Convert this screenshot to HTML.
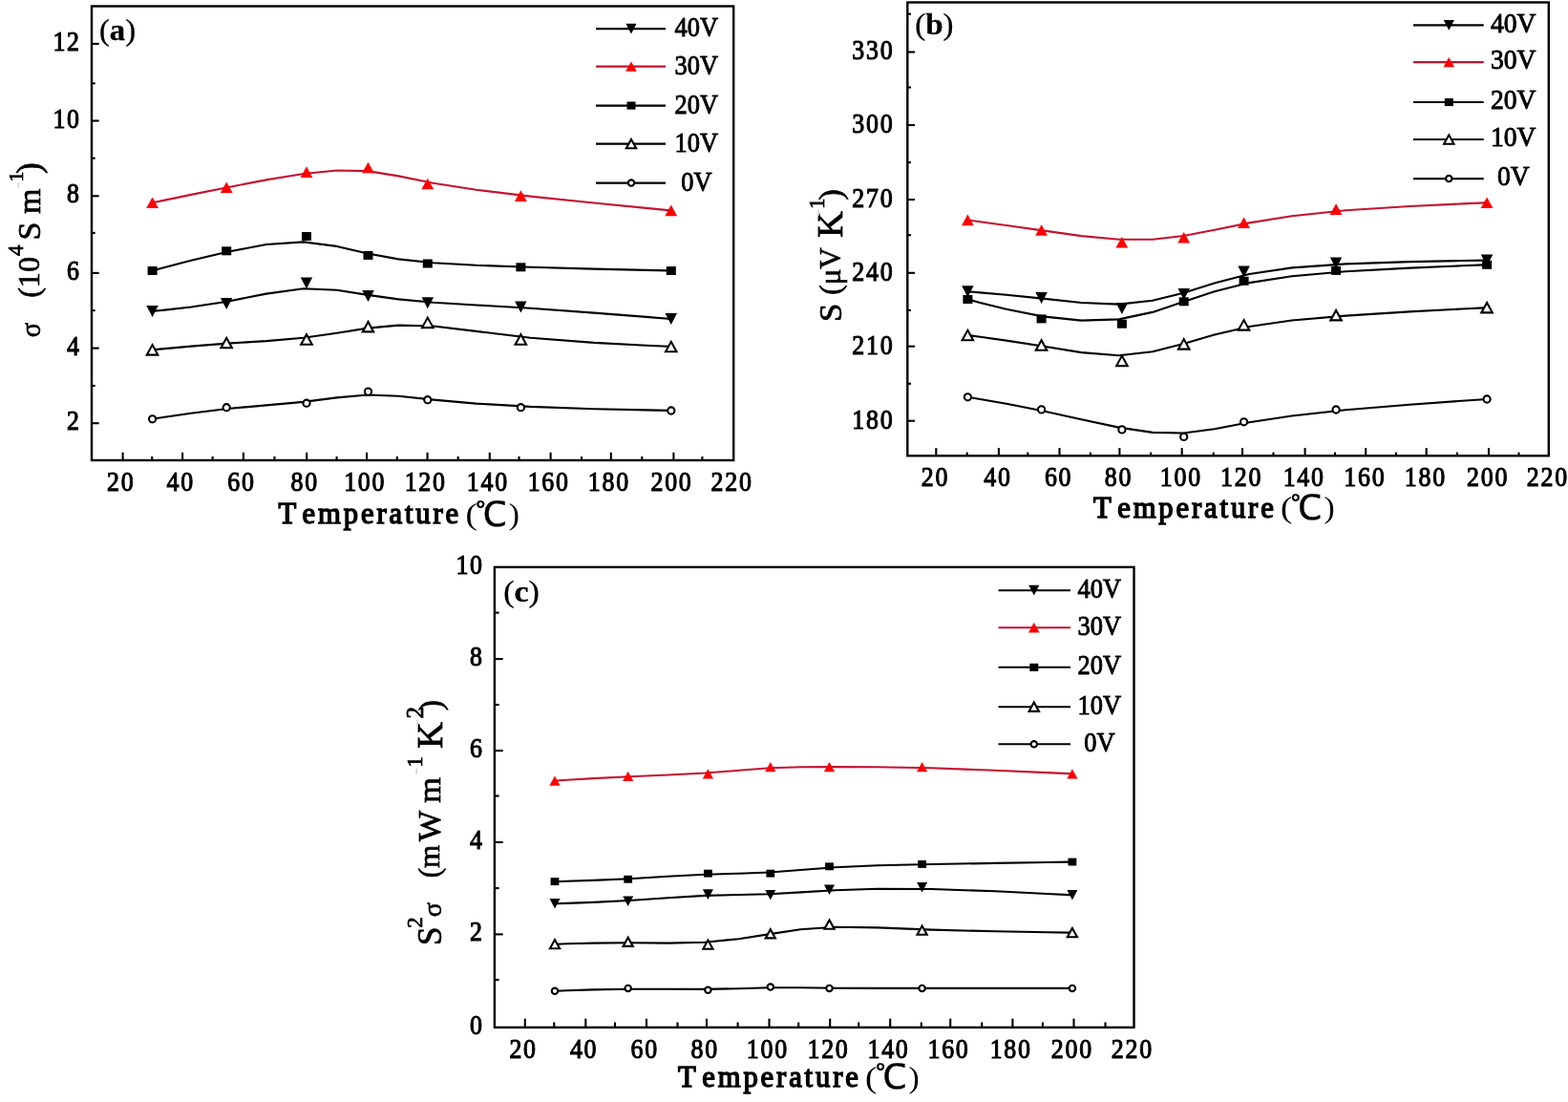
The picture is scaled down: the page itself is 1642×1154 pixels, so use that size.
<!DOCTYPE html>
<html><head><meta charset="utf-8"><title>Figure</title>
<style>
html,body{margin:0;padding:0;background:#fff;}
body{width:1642px;height:1154px;overflow:hidden;}
svg{display:block;}
</style></head><body>
<svg width="1642" height="1154" viewBox="0 0 1642 1154">
<rect width="1642" height="1154" fill="#fff"/>
<rect x="96" y="6.5" width="672.2" height="475.5" fill="none" stroke="#000" stroke-width="2.4"/>
<line x1="128.6" y1="482.0" x2="128.6" y2="473.8" stroke="#000" stroke-width="2.1"/>
<line x1="191.1" y1="482.0" x2="191.1" y2="473.8" stroke="#000" stroke-width="2.1"/>
<line x1="254.9" y1="482.0" x2="254.9" y2="473.8" stroke="#000" stroke-width="2.1"/>
<line x1="321.2" y1="482.0" x2="321.2" y2="473.8" stroke="#000" stroke-width="2.1"/>
<line x1="384.1" y1="482.0" x2="384.1" y2="473.8" stroke="#000" stroke-width="2.1"/>
<line x1="447.6" y1="482.0" x2="447.6" y2="473.8" stroke="#000" stroke-width="2.1"/>
<line x1="512.8" y1="482.0" x2="512.8" y2="473.8" stroke="#000" stroke-width="2.1"/>
<line x1="576.6" y1="482.0" x2="576.6" y2="473.8" stroke="#000" stroke-width="2.1"/>
<line x1="639.8" y1="482.0" x2="639.8" y2="473.8" stroke="#000" stroke-width="2.1"/>
<line x1="705.4" y1="482.0" x2="705.4" y2="473.8" stroke="#000" stroke-width="2.1"/>
<line x1="159.2" y1="482.0" x2="159.2" y2="478.0" stroke="#000" stroke-width="2.1"/>
<line x1="222.6" y1="482.0" x2="222.6" y2="478.0" stroke="#000" stroke-width="2.1"/>
<line x1="287.5" y1="482.0" x2="287.5" y2="478.0" stroke="#000" stroke-width="2.1"/>
<line x1="352.6" y1="482.0" x2="352.6" y2="478.0" stroke="#000" stroke-width="2.1"/>
<line x1="415.8" y1="482.0" x2="415.8" y2="478.0" stroke="#000" stroke-width="2.1"/>
<line x1="479.7" y1="482.0" x2="479.7" y2="478.0" stroke="#000" stroke-width="2.1"/>
<line x1="543.5" y1="482.0" x2="543.5" y2="478.0" stroke="#000" stroke-width="2.1"/>
<line x1="609.1" y1="482.0" x2="609.1" y2="478.0" stroke="#000" stroke-width="2.1"/>
<line x1="672.3" y1="482.0" x2="672.3" y2="478.0" stroke="#000" stroke-width="2.1"/>
<line x1="735.4" y1="482.0" x2="735.4" y2="478.0" stroke="#000" stroke-width="2.1"/>
<line x1="96" y1="443.2" x2="103.7" y2="443.2" stroke="#000" stroke-width="2.1"/>
<line x1="96" y1="364.6" x2="103.7" y2="364.6" stroke="#000" stroke-width="2.1"/>
<line x1="96" y1="285.9" x2="103.7" y2="285.9" stroke="#000" stroke-width="2.1"/>
<line x1="96" y1="205.3" x2="103.7" y2="205.3" stroke="#000" stroke-width="2.1"/>
<line x1="96" y1="126.5" x2="103.7" y2="126.5" stroke="#000" stroke-width="2.1"/>
<line x1="96" y1="45.9" x2="103.7" y2="45.9" stroke="#000" stroke-width="2.1"/>
<line x1="96" y1="404.0" x2="99.7" y2="404.0" stroke="#000" stroke-width="2.1"/>
<line x1="96" y1="325.1" x2="99.7" y2="325.1" stroke="#000" stroke-width="2.1"/>
<line x1="96" y1="243.9" x2="99.7" y2="243.9" stroke="#000" stroke-width="2.1"/>
<line x1="96" y1="165.7" x2="99.7" y2="165.7" stroke="#000" stroke-width="2.1"/>
<line x1="96" y1="87.3" x2="99.7" y2="87.3" stroke="#000" stroke-width="2.1"/>
<text transform="translate(84.8,450.3) scale(0.88,1.0)" font-size="29.4" font-weight="normal" text-anchor="end" font-family="'Liberation Serif',serif" letter-spacing="2.0" stroke="#000" stroke-width="1.1">2</text>
<text transform="translate(84.8,371.7) scale(0.88,1.0)" font-size="29.4" font-weight="normal" text-anchor="end" font-family="'Liberation Serif',serif" letter-spacing="2.0" stroke="#000" stroke-width="1.1">4</text>
<text transform="translate(84.8,293.0) scale(0.88,1.0)" font-size="29.4" font-weight="normal" text-anchor="end" font-family="'Liberation Serif',serif" letter-spacing="2.0" stroke="#000" stroke-width="1.1">6</text>
<text transform="translate(84.8,212.4) scale(0.88,1.0)" font-size="29.4" font-weight="normal" text-anchor="end" font-family="'Liberation Serif',serif" letter-spacing="2.0" stroke="#000" stroke-width="1.1">8</text>
<text transform="translate(84.8,133.6) scale(0.88,1.0)" font-size="29.4" font-weight="normal" text-anchor="end" font-family="'Liberation Serif',serif" letter-spacing="2.0" stroke="#000" stroke-width="1.1">10</text>
<text transform="translate(84.8,53.0) scale(0.88,1.0)" font-size="29.4" font-weight="normal" text-anchor="end" font-family="'Liberation Serif',serif" letter-spacing="2.0" stroke="#000" stroke-width="1.1">12</text>
<text transform="translate(126.7,514.0) scale(0.88,1.0)" font-size="29.4" font-weight="normal" text-anchor="middle" font-family="'Liberation Serif',serif" letter-spacing="2.0" stroke="#000" stroke-width="1.1">20</text>
<text transform="translate(189.2,514.0) scale(0.88,1.0)" font-size="29.4" font-weight="normal" text-anchor="middle" font-family="'Liberation Serif',serif" letter-spacing="2.0" stroke="#000" stroke-width="1.1">40</text>
<text transform="translate(253.0,514.0) scale(0.88,1.0)" font-size="29.4" font-weight="normal" text-anchor="middle" font-family="'Liberation Serif',serif" letter-spacing="2.0" stroke="#000" stroke-width="1.1">60</text>
<text transform="translate(319.3,514.0) scale(0.88,1.0)" font-size="29.4" font-weight="normal" text-anchor="middle" font-family="'Liberation Serif',serif" letter-spacing="2.0" stroke="#000" stroke-width="1.1">80</text>
<text transform="translate(382.2,514.0) scale(0.88,1.0)" font-size="29.4" font-weight="normal" text-anchor="middle" font-family="'Liberation Serif',serif" letter-spacing="2.0" stroke="#000" stroke-width="1.1">100</text>
<text transform="translate(445.7,514.0) scale(0.88,1.0)" font-size="29.4" font-weight="normal" text-anchor="middle" font-family="'Liberation Serif',serif" letter-spacing="2.0" stroke="#000" stroke-width="1.1">120</text>
<text transform="translate(510.9,514.0) scale(0.88,1.0)" font-size="29.4" font-weight="normal" text-anchor="middle" font-family="'Liberation Serif',serif" letter-spacing="2.0" stroke="#000" stroke-width="1.1">140</text>
<text transform="translate(574.7,514.0) scale(0.88,1.0)" font-size="29.4" font-weight="normal" text-anchor="middle" font-family="'Liberation Serif',serif" letter-spacing="2.0" stroke="#000" stroke-width="1.1">160</text>
<text transform="translate(637.9,514.0) scale(0.88,1.0)" font-size="29.4" font-weight="normal" text-anchor="middle" font-family="'Liberation Serif',serif" letter-spacing="2.0" stroke="#000" stroke-width="1.1">180</text>
<text transform="translate(703.5,514.0) scale(0.88,1.0)" font-size="29.4" font-weight="normal" text-anchor="middle" font-family="'Liberation Serif',serif" letter-spacing="2.0" stroke="#000" stroke-width="1.1">200</text>
<text transform="translate(766.6,514.0) scale(0.88,1.0)" font-size="29.4" font-weight="normal" text-anchor="middle" font-family="'Liberation Serif',serif" letter-spacing="2.0" stroke="#000" stroke-width="1.1">220</text>
<path d="M159.6,438.8L161.2,438.5L172.5,436.8L200.1,432.7L238.2,428.0L278.8,424.4L317.8,420.9L352.8,416.4L385.1,413.5L417.3,414.8L453.7,418.6L498.6,422.6L555.4,425.9L622.1,428.2L676.6,429.4L699.5,429.9L702.8,430.0" fill="none" stroke="#000" stroke-width="2.1" stroke-linejoin="round"/>
<path d="M159.6,366.3L161.2,366.1L172.5,365.1L200.1,362.6L238.2,359.6L278.8,357.1L317.8,353.8L352.8,348.8L385.1,343.6L417.3,340.6L453.7,341.5L498.6,346.9L555.4,353.8L622.1,358.9L676.6,361.8L699.5,362.8L702.8,363.0" fill="none" stroke="#000" stroke-width="2.1" stroke-linejoin="round"/>
<path d="M159.6,326.0L161.2,325.8L172.5,324.6L200.1,321.5L238.2,315.7L278.8,307.6L317.8,302.2L352.8,303.8L385.1,308.9L417.3,313.4L453.7,316.8L498.6,319.5L555.4,322.8L622.1,327.6L676.6,331.9L699.5,333.7L702.8,334.0" fill="none" stroke="#000" stroke-width="2.1" stroke-linejoin="round"/>
<path d="M159.6,283.5L161.2,283.1L172.5,280.1L200.1,272.8L238.2,263.7L278.8,256.0L317.8,253.4L352.8,257.9L385.1,265.5L417.3,271.4L453.7,275.2L498.6,277.8L555.4,279.8L622.1,281.6L676.6,282.9L699.5,283.4L702.8,283.5" fill="none" stroke="#000" stroke-width="2.1" stroke-linejoin="round"/>
<path d="M159.6,212.3L161.2,212.0L172.5,209.6L200.1,203.9L238.2,196.2L278.8,188.4L317.8,182.0L352.8,178.5L385.1,179.1L417.3,184.4L453.7,191.8L498.6,198.8L555.4,205.6L622.1,212.5L676.6,217.9L699.5,220.1L702.8,220.4" fill="none" stroke="#c41230" stroke-width="2.1" stroke-linejoin="round"/>
<circle cx="159.6" cy="438.8" r="3.6" fill="#fff" stroke="#000" stroke-width="2.1"/>
<circle cx="237.2" cy="426.7" r="3.6" fill="#fff" stroke="#000" stroke-width="2.1"/>
<circle cx="321.0" cy="422.2" r="3.6" fill="#fff" stroke="#000" stroke-width="2.1"/>
<circle cx="385.5" cy="410.1" r="3.6" fill="#fff" stroke="#000" stroke-width="2.1"/>
<circle cx="447.8" cy="418.7" r="3.6" fill="#fff" stroke="#000" stroke-width="2.1"/>
<circle cx="545.4" cy="426.7" r="3.6" fill="#fff" stroke="#000" stroke-width="2.1"/>
<circle cx="702.8" cy="430.0" r="3.6" fill="#fff" stroke="#000" stroke-width="2.1"/>
<path d="M153.8,371.6L165.3,371.6L159.6,361.1Z" fill="#fff" stroke="#000" stroke-width="2.1" stroke-linejoin="miter"/>
<path d="M231.4,364.2L242.9,364.2L237.2,353.8Z" fill="#fff" stroke="#000" stroke-width="2.1" stroke-linejoin="miter"/>
<path d="M315.2,360.8L326.8,360.8L321.0,350.2Z" fill="#fff" stroke="#000" stroke-width="2.1" stroke-linejoin="miter"/>
<path d="M379.8,347.4L391.2,347.4L385.5,336.9Z" fill="#fff" stroke="#000" stroke-width="2.1" stroke-linejoin="miter"/>
<path d="M442.1,343.1L453.6,343.1L447.8,332.6Z" fill="#fff" stroke="#000" stroke-width="2.1" stroke-linejoin="miter"/>
<path d="M539.6,360.8L551.1,360.8L545.4,350.2Z" fill="#fff" stroke="#000" stroke-width="2.1" stroke-linejoin="miter"/>
<path d="M697.0,368.2L708.5,368.2L702.8,357.8Z" fill="#fff" stroke="#000" stroke-width="2.1" stroke-linejoin="miter"/>
<path d="M153.3,320.0L165.8,320.0L159.6,332.0Z" fill="#000"/>
<path d="M230.9,311.9L243.4,311.9L237.2,323.9Z" fill="#000"/>
<path d="M314.8,290.4L327.2,290.4L321.0,302.4Z" fill="#000"/>
<path d="M379.2,303.9L391.8,303.9L385.5,315.9Z" fill="#000"/>
<path d="M441.6,311.3L454.1,311.3L447.8,323.3Z" fill="#000"/>
<path d="M539.1,315.4L551.6,315.4L545.4,327.4Z" fill="#000"/>
<path d="M696.5,328.0L709.0,328.0L702.8,340.0Z" fill="#000"/>
<rect x="154.6" y="279.0" width="10.0" height="9.0" fill="#000"/>
<rect x="232.2" y="258.3" width="10.0" height="9.0" fill="#000"/>
<rect x="316.0" y="243.0" width="10.0" height="9.0" fill="#000"/>
<rect x="380.5" y="262.9" width="10.0" height="9.0" fill="#000"/>
<rect x="442.8" y="271.5" width="10.0" height="9.0" fill="#000"/>
<rect x="540.4" y="275.3" width="10.0" height="9.0" fill="#000"/>
<rect x="697.8" y="279.0" width="10.0" height="9.0" fill="#000"/>
<path d="M153.2,218.1L166.0,218.1L159.6,206.5Z" fill="#ff0000"/>
<path d="M230.8,202.0L243.6,202.0L237.2,190.4Z" fill="#ff0000"/>
<path d="M314.6,185.9L327.4,185.9L321.0,174.3Z" fill="#ff0000"/>
<path d="M379.1,181.3L391.9,181.3L385.5,169.7Z" fill="#ff0000"/>
<path d="M441.4,198.3L454.2,198.3L447.8,186.7Z" fill="#ff0000"/>
<path d="M539.0,210.9L551.8,210.9L545.4,199.3Z" fill="#ff0000"/>
<path d="M696.4,226.2L709.2,226.2L702.8,214.6Z" fill="#ff0000"/>
<line x1="624" y1="30.1" x2="697" y2="30.1" stroke="#000" stroke-width="2.1"/>
<path d="M655.4,24.7L666.6,24.7L661.0,35.5Z" fill="#000"/>
<text transform="translate(706.6,38.1) scale(1.0,1.11)" font-size="26.4" font-weight="normal" text-anchor="start" font-family="'Liberation Serif',serif" stroke="#000" stroke-width="0.85">40V</text>
<line x1="624" y1="69.6" x2="697" y2="69.6" stroke="#c41230" stroke-width="2.1"/>
<path d="M655.2,74.8L666.8,74.8L661.0,64.4Z" fill="#ff0000"/>
<text transform="translate(706.6,77.6) scale(1.0,1.11)" font-size="26.4" font-weight="normal" text-anchor="start" font-family="'Liberation Serif',serif" stroke="#000" stroke-width="0.85">30V</text>
<line x1="624" y1="110.6" x2="697" y2="110.6" stroke="#000" stroke-width="2.1"/>
<rect x="656.5" y="106.5" width="9.0" height="8.1" fill="#000"/>
<text transform="translate(706.6,118.6) scale(1.0,1.11)" font-size="26.4" font-weight="normal" text-anchor="start" font-family="'Liberation Serif',serif" stroke="#000" stroke-width="0.85">20V</text>
<line x1="624" y1="150.6" x2="697" y2="150.6" stroke="#000" stroke-width="2.1"/>
<path d="M655.8,155.3L666.2,155.3L661.0,145.9Z" fill="#fff" stroke="#000" stroke-width="2.1" stroke-linejoin="miter"/>
<text transform="translate(706.6,158.6) scale(1.0,1.11)" font-size="26.4" font-weight="normal" text-anchor="start" font-family="'Liberation Serif',serif" stroke="#000" stroke-width="0.85">10V</text>
<line x1="624" y1="191.6" x2="697" y2="191.6" stroke="#000" stroke-width="2.1"/>
<circle cx="661.0" cy="191.6" r="3.2" fill="#fff" stroke="#000" stroke-width="2.1"/>
<text transform="translate(706.6,199.6) scale(1.0,1.11)" font-size="26.4" font-weight="normal" text-anchor="start" font-family="'Liberation Serif',serif" stroke="#000" stroke-width="0.85">&#160;0V</text>
<rect x="950.3" y="2.5" width="671.5" height="474.8" fill="none" stroke="#000" stroke-width="2.4"/>
<line x1="980.3" y1="477.3" x2="980.3" y2="469.1" stroke="#000" stroke-width="2.1"/>
<line x1="1045.9" y1="477.3" x2="1045.9" y2="469.1" stroke="#000" stroke-width="2.1"/>
<line x1="1109.5" y1="477.3" x2="1109.5" y2="469.1" stroke="#000" stroke-width="2.1"/>
<line x1="1172.4" y1="477.3" x2="1172.4" y2="469.1" stroke="#000" stroke-width="2.1"/>
<line x1="1237.7" y1="477.3" x2="1237.7" y2="469.1" stroke="#000" stroke-width="2.1"/>
<line x1="1301.0" y1="477.3" x2="1301.0" y2="469.1" stroke="#000" stroke-width="2.1"/>
<line x1="1366.6" y1="477.3" x2="1366.6" y2="469.1" stroke="#000" stroke-width="2.1"/>
<line x1="1430.2" y1="477.3" x2="1430.2" y2="469.1" stroke="#000" stroke-width="2.1"/>
<line x1="1493.7" y1="477.3" x2="1493.7" y2="469.1" stroke="#000" stroke-width="2.1"/>
<line x1="1559.0" y1="477.3" x2="1559.0" y2="469.1" stroke="#000" stroke-width="2.1"/>
<line x1="1012.7" y1="477.3" x2="1012.7" y2="473.6" stroke="#000" stroke-width="2.1"/>
<line x1="1076.3" y1="477.3" x2="1076.3" y2="473.6" stroke="#000" stroke-width="2.1"/>
<line x1="1141.9" y1="477.3" x2="1141.9" y2="473.6" stroke="#000" stroke-width="2.1"/>
<line x1="1205.1" y1="477.3" x2="1205.1" y2="473.6" stroke="#000" stroke-width="2.1"/>
<line x1="1270.7" y1="477.3" x2="1270.7" y2="473.6" stroke="#000" stroke-width="2.1"/>
<line x1="1333.5" y1="477.3" x2="1333.5" y2="473.6" stroke="#000" stroke-width="2.1"/>
<line x1="1398.0" y1="477.3" x2="1398.0" y2="473.6" stroke="#000" stroke-width="2.1"/>
<line x1="1462.0" y1="477.3" x2="1462.0" y2="473.6" stroke="#000" stroke-width="2.1"/>
<line x1="1526.0" y1="477.3" x2="1526.0" y2="473.6" stroke="#000" stroke-width="2.1"/>
<line x1="1590.5" y1="477.3" x2="1590.5" y2="473.6" stroke="#000" stroke-width="2.1"/>
<line x1="950.3" y1="440.7" x2="958.0" y2="440.7" stroke="#000" stroke-width="2.1"/>
<line x1="950.3" y1="362.7" x2="958.0" y2="362.7" stroke="#000" stroke-width="2.1"/>
<line x1="950.3" y1="285.8" x2="958.0" y2="285.8" stroke="#000" stroke-width="2.1"/>
<line x1="950.3" y1="209.0" x2="958.0" y2="209.0" stroke="#000" stroke-width="2.1"/>
<line x1="950.3" y1="131.0" x2="958.0" y2="131.0" stroke="#000" stroke-width="2.1"/>
<line x1="950.3" y1="54.5" x2="958.0" y2="54.5" stroke="#000" stroke-width="2.1"/>
<line x1="950.3" y1="401.8" x2="954.0" y2="401.8" stroke="#000" stroke-width="2.1"/>
<line x1="950.3" y1="324.9" x2="954.0" y2="324.9" stroke="#000" stroke-width="2.1"/>
<line x1="950.3" y1="246.2" x2="954.0" y2="246.2" stroke="#000" stroke-width="2.1"/>
<line x1="950.3" y1="170.1" x2="954.0" y2="170.1" stroke="#000" stroke-width="2.1"/>
<line x1="950.3" y1="91.5" x2="954.0" y2="91.5" stroke="#000" stroke-width="2.1"/>
<line x1="950.3" y1="14.6" x2="954.0" y2="14.6" stroke="#000" stroke-width="2.1"/>
<text transform="translate(936.4,448.5) scale(0.88,1.0)" font-size="29.4" font-weight="normal" text-anchor="end" font-family="'Liberation Serif',serif" letter-spacing="2.0" stroke="#000" stroke-width="1.1">180</text>
<text transform="translate(936.4,370.5) scale(0.88,1.0)" font-size="29.4" font-weight="normal" text-anchor="end" font-family="'Liberation Serif',serif" letter-spacing="2.0" stroke="#000" stroke-width="1.1">210</text>
<text transform="translate(936.4,293.6) scale(0.88,1.0)" font-size="29.4" font-weight="normal" text-anchor="end" font-family="'Liberation Serif',serif" letter-spacing="2.0" stroke="#000" stroke-width="1.1">240</text>
<text transform="translate(936.4,216.8) scale(0.88,1.0)" font-size="29.4" font-weight="normal" text-anchor="end" font-family="'Liberation Serif',serif" letter-spacing="2.0" stroke="#000" stroke-width="1.1">270</text>
<text transform="translate(936.4,138.8) scale(0.88,1.0)" font-size="29.4" font-weight="normal" text-anchor="end" font-family="'Liberation Serif',serif" letter-spacing="2.0" stroke="#000" stroke-width="1.1">300</text>
<text transform="translate(936.4,62.3) scale(0.88,1.0)" font-size="29.4" font-weight="normal" text-anchor="end" font-family="'Liberation Serif',serif" letter-spacing="2.0" stroke="#000" stroke-width="1.1">330</text>
<text transform="translate(979.4,509.2) scale(0.88,1.0)" font-size="29.4" font-weight="normal" text-anchor="middle" font-family="'Liberation Serif',serif" letter-spacing="2.0" stroke="#000" stroke-width="1.1">20</text>
<text transform="translate(1045.0,509.2) scale(0.88,1.0)" font-size="29.4" font-weight="normal" text-anchor="middle" font-family="'Liberation Serif',serif" letter-spacing="2.0" stroke="#000" stroke-width="1.1">40</text>
<text transform="translate(1108.6,509.2) scale(0.88,1.0)" font-size="29.4" font-weight="normal" text-anchor="middle" font-family="'Liberation Serif',serif" letter-spacing="2.0" stroke="#000" stroke-width="1.1">60</text>
<text transform="translate(1171.5,509.2) scale(0.88,1.0)" font-size="29.4" font-weight="normal" text-anchor="middle" font-family="'Liberation Serif',serif" letter-spacing="2.0" stroke="#000" stroke-width="1.1">80</text>
<text transform="translate(1236.8,509.2) scale(0.88,1.0)" font-size="29.4" font-weight="normal" text-anchor="middle" font-family="'Liberation Serif',serif" letter-spacing="2.0" stroke="#000" stroke-width="1.1">100</text>
<text transform="translate(1300.1,509.2) scale(0.88,1.0)" font-size="29.4" font-weight="normal" text-anchor="middle" font-family="'Liberation Serif',serif" letter-spacing="2.0" stroke="#000" stroke-width="1.1">120</text>
<text transform="translate(1365.7,509.2) scale(0.88,1.0)" font-size="29.4" font-weight="normal" text-anchor="middle" font-family="'Liberation Serif',serif" letter-spacing="2.0" stroke="#000" stroke-width="1.1">140</text>
<text transform="translate(1429.3,509.2) scale(0.88,1.0)" font-size="29.4" font-weight="normal" text-anchor="middle" font-family="'Liberation Serif',serif" letter-spacing="2.0" stroke="#000" stroke-width="1.1">160</text>
<text transform="translate(1492.8,509.2) scale(0.88,1.0)" font-size="29.4" font-weight="normal" text-anchor="middle" font-family="'Liberation Serif',serif" letter-spacing="2.0" stroke="#000" stroke-width="1.1">180</text>
<text transform="translate(1558.1,509.2) scale(0.88,1.0)" font-size="29.4" font-weight="normal" text-anchor="middle" font-family="'Liberation Serif',serif" letter-spacing="2.0" stroke="#000" stroke-width="1.1">200</text>
<text transform="translate(1620.9,509.2) scale(0.88,1.0)" font-size="29.4" font-weight="normal" text-anchor="middle" font-family="'Liberation Serif',serif" letter-spacing="2.0" stroke="#000" stroke-width="1.1">220</text>
<path d="M1013.4,415.8L1015.0,416.1L1026.3,418.0L1053.8,422.8L1091.8,430.2L1132.5,439.3L1171.7,447.6L1206.9,452.9L1239.4,453.5L1271.8,449.2L1308.2,442.3L1352.8,435.5L1409.3,429.3L1476.1,423.8L1530.8,419.8L1553.8,418.2L1557.1,418.0" fill="none" stroke="#000" stroke-width="2.1" stroke-linejoin="round"/>
<path d="M1013.4,351.0L1015.0,351.2L1026.3,352.8L1053.8,356.6L1091.8,362.5L1132.5,369.1L1171.7,372.2L1206.9,368.3L1239.4,359.9L1271.8,350.5L1308.2,342.0L1352.8,335.5L1409.3,330.6L1476.1,326.4L1530.8,323.5L1553.8,322.4L1557.1,322.2" fill="none" stroke="#000" stroke-width="2.1" stroke-linejoin="round"/>
<path d="M1013.4,305.3L1015.0,305.4L1026.3,306.4L1053.8,308.8L1091.8,312.6L1132.5,317.0L1171.7,318.6L1206.9,314.8L1239.4,306.7L1271.8,296.5L1308.2,287.0L1352.8,280.4L1409.3,276.4L1476.1,274.1L1530.8,273.0L1553.8,272.6L1557.1,272.5" fill="none" stroke="#000" stroke-width="2.1" stroke-linejoin="round"/>
<path d="M1013.4,313.5L1015.0,313.9L1026.3,316.9L1053.8,323.8L1091.8,331.4L1132.5,335.6L1171.7,334.4L1206.9,326.9L1239.4,316.1L1271.8,305.3L1308.2,296.1L1352.8,289.2L1409.3,284.2L1476.1,280.6L1530.8,278.3L1553.8,277.4L1557.1,277.3" fill="none" stroke="#000" stroke-width="2.1" stroke-linejoin="round"/>
<path d="M1013.4,230.4L1015.0,230.6L1026.3,232.2L1053.8,236.0L1091.8,241.4L1132.5,247.1L1171.7,250.8L1206.9,250.7L1239.4,247.0L1271.8,240.8L1308.2,233.4L1352.8,226.3L1409.3,220.3L1476.1,216.0L1530.8,213.4L1553.8,212.4L1557.1,212.3" fill="none" stroke="#c41230" stroke-width="2.1" stroke-linejoin="round"/>
<circle cx="1013.4" cy="415.8" r="3.6" fill="#fff" stroke="#000" stroke-width="2.1"/>
<circle cx="1090.6" cy="428.9" r="3.6" fill="#fff" stroke="#000" stroke-width="2.1"/>
<circle cx="1174.9" cy="449.9" r="3.6" fill="#fff" stroke="#000" stroke-width="2.1"/>
<circle cx="1239.7" cy="457.4" r="3.6" fill="#fff" stroke="#000" stroke-width="2.1"/>
<circle cx="1302.6" cy="441.8" r="3.6" fill="#fff" stroke="#000" stroke-width="2.1"/>
<circle cx="1399.1" cy="429.0" r="3.6" fill="#fff" stroke="#000" stroke-width="2.1"/>
<circle cx="1557.1" cy="418.0" r="3.6" fill="#fff" stroke="#000" stroke-width="2.1"/>
<path d="M1007.6,356.2L1019.1,356.2L1013.4,345.8Z" fill="#fff" stroke="#000" stroke-width="2.1" stroke-linejoin="miter"/>
<path d="M1084.8,366.8L1096.3,366.8L1090.6,356.2Z" fill="#fff" stroke="#000" stroke-width="2.1" stroke-linejoin="miter"/>
<path d="M1169.2,383.1L1180.7,383.1L1174.9,372.6Z" fill="#fff" stroke="#000" stroke-width="2.1" stroke-linejoin="miter"/>
<path d="M1234.0,365.6L1245.5,365.6L1239.7,355.1Z" fill="#fff" stroke="#000" stroke-width="2.1" stroke-linejoin="miter"/>
<path d="M1296.8,345.6L1308.3,345.6L1302.6,335.1Z" fill="#fff" stroke="#000" stroke-width="2.1" stroke-linejoin="miter"/>
<path d="M1393.3,335.4L1404.8,335.4L1399.1,324.9Z" fill="#fff" stroke="#000" stroke-width="2.1" stroke-linejoin="miter"/>
<path d="M1551.3,327.4L1562.8,327.4L1557.1,316.9Z" fill="#fff" stroke="#000" stroke-width="2.1" stroke-linejoin="miter"/>
<path d="M1007.1,299.3L1019.6,299.3L1013.4,311.3Z" fill="#000"/>
<path d="M1084.3,305.9L1096.8,305.9L1090.6,317.9Z" fill="#000"/>
<path d="M1168.7,316.9L1181.2,316.9L1174.9,328.9Z" fill="#000"/>
<path d="M1233.5,302.1L1246.0,302.1L1239.7,314.1Z" fill="#000"/>
<path d="M1296.3,278.6L1308.8,278.6L1302.6,290.6Z" fill="#000"/>
<path d="M1392.8,269.4L1405.3,269.4L1399.1,281.4Z" fill="#000"/>
<path d="M1550.8,266.5L1563.3,266.5L1557.1,278.5Z" fill="#000"/>
<rect x="1008.4" y="309.0" width="10.0" height="9.0" fill="#000"/>
<rect x="1085.6" y="329.4" width="10.0" height="9.0" fill="#000"/>
<rect x="1169.9" y="334.7" width="10.0" height="9.0" fill="#000"/>
<rect x="1234.7" y="311.3" width="10.0" height="9.0" fill="#000"/>
<rect x="1297.6" y="289.8" width="10.0" height="9.0" fill="#000"/>
<rect x="1394.1" y="278.9" width="10.0" height="9.0" fill="#000"/>
<rect x="1552.1" y="272.8" width="10.0" height="9.0" fill="#000"/>
<path d="M1007.0,236.2L1019.8,236.2L1013.4,224.6Z" fill="#ff0000"/>
<path d="M1084.2,246.8L1097.0,246.8L1090.6,235.2Z" fill="#ff0000"/>
<path d="M1168.5,259.6L1181.3,259.6L1174.9,248.0Z" fill="#ff0000"/>
<path d="M1233.3,254.5L1246.1,254.5L1239.7,242.9Z" fill="#ff0000"/>
<path d="M1296.2,239.0L1309.0,239.0L1302.6,227.4Z" fill="#ff0000"/>
<path d="M1392.7,224.9L1405.5,224.9L1399.1,213.3Z" fill="#ff0000"/>
<path d="M1550.7,218.1L1563.5,218.1L1557.1,206.5Z" fill="#ff0000"/>
<line x1="1480" y1="26.4" x2="1553.7" y2="26.4" stroke="#000" stroke-width="2.1"/>
<path d="M1511.7,21.0L1522.9,21.0L1517.3,31.8Z" fill="#000"/>
<text transform="translate(1561.0,33.6) scale(1.0,1.07)" font-size="27.6" font-weight="normal" text-anchor="start" font-family="'Liberation Serif',serif" stroke="#000" stroke-width="0.85">40V</text>
<line x1="1480" y1="65.1" x2="1553.7" y2="65.1" stroke="#c41230" stroke-width="2.1"/>
<path d="M1511.5,70.3L1523.1,70.3L1517.3,59.9Z" fill="#ff0000"/>
<text transform="translate(1561.0,72.3) scale(1.0,1.07)" font-size="27.6" font-weight="normal" text-anchor="start" font-family="'Liberation Serif',serif" stroke="#000" stroke-width="0.85">30V</text>
<line x1="1480" y1="107" x2="1553.7" y2="107" stroke="#000" stroke-width="2.1"/>
<rect x="1512.8" y="103.0" width="9.0" height="8.1" fill="#000"/>
<text transform="translate(1561.0,114.2) scale(1.0,1.07)" font-size="27.6" font-weight="normal" text-anchor="start" font-family="'Liberation Serif',serif" stroke="#000" stroke-width="0.85">20V</text>
<line x1="1480" y1="146" x2="1553.7" y2="146" stroke="#000" stroke-width="2.1"/>
<path d="M1512.1,150.7L1522.5,150.7L1517.3,141.3Z" fill="#fff" stroke="#000" stroke-width="2.1" stroke-linejoin="miter"/>
<text transform="translate(1561.0,153.2) scale(1.0,1.07)" font-size="27.6" font-weight="normal" text-anchor="start" font-family="'Liberation Serif',serif" stroke="#000" stroke-width="0.85">10V</text>
<line x1="1480" y1="187.1" x2="1553.7" y2="187.1" stroke="#000" stroke-width="2.1"/>
<circle cx="1517.3" cy="187.1" r="3.2" fill="#fff" stroke="#000" stroke-width="2.1"/>
<text transform="translate(1561.0,194.3) scale(1.0,1.07)" font-size="27.6" font-weight="normal" text-anchor="start" font-family="'Liberation Serif',serif" stroke="#000" stroke-width="0.85">&#160;0V</text>
<rect x="517.9" y="593.9" width="669.6" height="482.0000000000001" fill="none" stroke="#000" stroke-width="2.4"/>
<line x1="549.8" y1="1075.9" x2="549.8" y2="1066.7" stroke="#000" stroke-width="2.1"/>
<line x1="613.3" y1="1075.9" x2="613.3" y2="1066.7" stroke="#000" stroke-width="2.1"/>
<line x1="677.0" y1="1075.9" x2="677.0" y2="1066.7" stroke="#000" stroke-width="2.1"/>
<line x1="740.0" y1="1075.9" x2="740.0" y2="1066.7" stroke="#000" stroke-width="2.1"/>
<line x1="805.5" y1="1075.9" x2="805.5" y2="1066.7" stroke="#000" stroke-width="2.1"/>
<line x1="869.2" y1="1075.9" x2="869.2" y2="1066.7" stroke="#000" stroke-width="2.1"/>
<line x1="932.2" y1="1075.9" x2="932.2" y2="1066.7" stroke="#000" stroke-width="2.1"/>
<line x1="995.2" y1="1075.9" x2="995.2" y2="1066.7" stroke="#000" stroke-width="2.1"/>
<line x1="1060.4" y1="1075.9" x2="1060.4" y2="1066.7" stroke="#000" stroke-width="2.1"/>
<line x1="1124.5" y1="1075.9" x2="1124.5" y2="1066.7" stroke="#000" stroke-width="2.1"/>
<line x1="580.3" y1="1075.9" x2="580.3" y2="1070.5" stroke="#000" stroke-width="2.1"/>
<line x1="644.0" y1="1075.9" x2="644.0" y2="1070.5" stroke="#000" stroke-width="2.1"/>
<line x1="709.5" y1="1075.9" x2="709.5" y2="1070.5" stroke="#000" stroke-width="2.1"/>
<line x1="772.6" y1="1075.9" x2="772.6" y2="1070.5" stroke="#000" stroke-width="2.1"/>
<line x1="836.2" y1="1075.9" x2="836.2" y2="1070.5" stroke="#000" stroke-width="2.1"/>
<line x1="899.2" y1="1075.9" x2="899.2" y2="1070.5" stroke="#000" stroke-width="2.1"/>
<line x1="964.8" y1="1075.9" x2="964.8" y2="1070.5" stroke="#000" stroke-width="2.1"/>
<line x1="1028.2" y1="1075.9" x2="1028.2" y2="1070.5" stroke="#000" stroke-width="2.1"/>
<line x1="1091.9" y1="1075.9" x2="1091.9" y2="1070.5" stroke="#000" stroke-width="2.1"/>
<line x1="1157.5" y1="1075.9" x2="1157.5" y2="1070.5" stroke="#000" stroke-width="2.1"/>
<line x1="517.9" y1="978.4" x2="526.7" y2="978.4" stroke="#000" stroke-width="2.1"/>
<line x1="517.9" y1="882.0" x2="526.7" y2="882.0" stroke="#000" stroke-width="2.1"/>
<line x1="517.9" y1="786.1" x2="526.7" y2="786.1" stroke="#000" stroke-width="2.1"/>
<line x1="517.9" y1="690.1" x2="526.7" y2="690.1" stroke="#000" stroke-width="2.1"/>
<line x1="517.9" y1="1026.1" x2="522.6" y2="1026.1" stroke="#000" stroke-width="2.1"/>
<line x1="517.9" y1="930.1" x2="522.6" y2="930.1" stroke="#000" stroke-width="2.1"/>
<line x1="517.9" y1="833.5" x2="522.6" y2="833.5" stroke="#000" stroke-width="2.1"/>
<line x1="517.9" y1="738.0" x2="522.6" y2="738.0" stroke="#000" stroke-width="2.1"/>
<line x1="517.9" y1="641.6" x2="522.6" y2="641.6" stroke="#000" stroke-width="2.1"/>
<text transform="translate(506.8,1082.7) scale(0.88,1.0)" font-size="29.4" font-weight="normal" text-anchor="end" font-family="'Liberation Serif',serif" letter-spacing="2.0" stroke="#000" stroke-width="1.1">0</text>
<text transform="translate(506.8,985.2) scale(0.88,1.0)" font-size="29.4" font-weight="normal" text-anchor="end" font-family="'Liberation Serif',serif" letter-spacing="2.0" stroke="#000" stroke-width="1.1">2</text>
<text transform="translate(506.8,888.8) scale(0.88,1.0)" font-size="29.4" font-weight="normal" text-anchor="end" font-family="'Liberation Serif',serif" letter-spacing="2.0" stroke="#000" stroke-width="1.1">4</text>
<text transform="translate(506.8,792.9) scale(0.88,1.0)" font-size="29.4" font-weight="normal" text-anchor="end" font-family="'Liberation Serif',serif" letter-spacing="2.0" stroke="#000" stroke-width="1.1">6</text>
<text transform="translate(506.8,696.9) scale(0.88,1.0)" font-size="29.4" font-weight="normal" text-anchor="end" font-family="'Liberation Serif',serif" letter-spacing="2.0" stroke="#000" stroke-width="1.1">8</text>
<text transform="translate(506.8,600.7) scale(0.88,1.0)" font-size="29.4" font-weight="normal" text-anchor="end" font-family="'Liberation Serif',serif" letter-spacing="2.0" stroke="#000" stroke-width="1.1">10</text>
<text transform="translate(548.1,1108.2) scale(0.88,1.0)" font-size="29.4" font-weight="normal" text-anchor="middle" font-family="'Liberation Serif',serif" letter-spacing="2.0" stroke="#000" stroke-width="1.1">20</text>
<text transform="translate(611.6,1108.2) scale(0.88,1.0)" font-size="29.4" font-weight="normal" text-anchor="middle" font-family="'Liberation Serif',serif" letter-spacing="2.0" stroke="#000" stroke-width="1.1">40</text>
<text transform="translate(675.3,1108.2) scale(0.88,1.0)" font-size="29.4" font-weight="normal" text-anchor="middle" font-family="'Liberation Serif',serif" letter-spacing="2.0" stroke="#000" stroke-width="1.1">60</text>
<text transform="translate(738.3,1108.2) scale(0.88,1.0)" font-size="29.4" font-weight="normal" text-anchor="middle" font-family="'Liberation Serif',serif" letter-spacing="2.0" stroke="#000" stroke-width="1.1">80</text>
<text transform="translate(803.8,1108.2) scale(0.88,1.0)" font-size="29.4" font-weight="normal" text-anchor="middle" font-family="'Liberation Serif',serif" letter-spacing="2.0" stroke="#000" stroke-width="1.1">100</text>
<text transform="translate(867.5,1108.2) scale(0.88,1.0)" font-size="29.4" font-weight="normal" text-anchor="middle" font-family="'Liberation Serif',serif" letter-spacing="2.0" stroke="#000" stroke-width="1.1">120</text>
<text transform="translate(930.5,1108.2) scale(0.88,1.0)" font-size="29.4" font-weight="normal" text-anchor="middle" font-family="'Liberation Serif',serif" letter-spacing="2.0" stroke="#000" stroke-width="1.1">140</text>
<text transform="translate(993.5,1108.2) scale(0.88,1.0)" font-size="29.4" font-weight="normal" text-anchor="middle" font-family="'Liberation Serif',serif" letter-spacing="2.0" stroke="#000" stroke-width="1.1">160</text>
<text transform="translate(1058.7,1108.2) scale(0.88,1.0)" font-size="29.4" font-weight="normal" text-anchor="middle" font-family="'Liberation Serif',serif" letter-spacing="2.0" stroke="#000" stroke-width="1.1">180</text>
<text transform="translate(1122.8,1108.2) scale(0.88,1.0)" font-size="29.4" font-weight="normal" text-anchor="middle" font-family="'Liberation Serif',serif" letter-spacing="2.0" stroke="#000" stroke-width="1.1">200</text>
<text transform="translate(1185.8,1108.2) scale(0.88,1.0)" font-size="29.4" font-weight="normal" text-anchor="middle" font-family="'Liberation Serif',serif" letter-spacing="2.0" stroke="#000" stroke-width="1.1">220</text>
<path d="M581.0,1037.8L582.6,1037.7L593.8,1037.3L621.1,1036.4L658.9,1035.7L699.3,1035.8L738.3,1035.9L773.6,1035.2L806.2,1034.3L838.3,1034.3L874.4,1034.7L919.0,1034.9L975.6,1034.9L1042.2,1034.9L1096.7,1034.9L1119.6,1034.9L1122.9,1034.9" fill="none" stroke="#000" stroke-width="2.1" stroke-linejoin="round"/>
<path d="M581.0,988.7L582.6,988.7L593.8,988.3L621.1,987.6L658.9,987.2L699.3,987.6L738.3,986.8L773.6,983.2L806.2,978.1L838.3,973.3L874.4,970.7L919.0,971.4L975.6,973.6L1042.2,975.3L1096.7,976.2L1119.6,976.6L1122.9,976.6" fill="none" stroke="#000" stroke-width="2.1" stroke-linejoin="round"/>
<path d="M581.0,946.3L582.6,946.2L593.8,945.9L621.1,944.9L658.9,943.0L699.3,940.3L738.3,937.9L773.6,937.0L806.2,936.2L838.3,934.4L874.4,932.2L919.0,930.8L975.6,931.0L1042.2,933.3L1096.7,936.0L1119.6,937.1L1122.9,937.3" fill="none" stroke="#000" stroke-width="2.1" stroke-linejoin="round"/>
<path d="M581.0,923.2L582.6,923.2L593.8,922.8L621.1,921.9L658.9,920.2L699.3,917.8L738.3,915.7L773.6,914.7L806.2,913.5L838.3,911.0L874.4,908.2L919.0,906.3L975.6,905.0L1042.2,903.9L1096.7,903.0L1119.6,902.6L1122.9,902.6" fill="none" stroke="#000" stroke-width="2.1" stroke-linejoin="round"/>
<path d="M581.0,817.6L582.6,817.5L593.8,816.8L621.1,815.1L658.9,813.2L699.3,811.5L738.3,809.5L773.6,806.8L806.2,804.3L838.3,803.3L874.4,803.1L919.0,803.3L975.6,804.3L1042.2,806.7L1096.7,809.1L1119.6,810.1L1122.9,810.3" fill="none" stroke="#c41230" stroke-width="2.1" stroke-linejoin="round"/>
<circle cx="581.0" cy="1037.8" r="3.2" fill="#fff" stroke="#000" stroke-width="2.1"/>
<circle cx="657.7" cy="1034.9" r="3.2" fill="#fff" stroke="#000" stroke-width="2.1"/>
<circle cx="741.4" cy="1036.8" r="3.2" fill="#fff" stroke="#000" stroke-width="2.1"/>
<circle cx="806.8" cy="1033.6" r="3.2" fill="#fff" stroke="#000" stroke-width="2.1"/>
<circle cx="868.5" cy="1034.9" r="3.2" fill="#fff" stroke="#000" stroke-width="2.1"/>
<circle cx="965.6" cy="1034.9" r="3.2" fill="#fff" stroke="#000" stroke-width="2.1"/>
<circle cx="1122.9" cy="1034.9" r="3.2" fill="#fff" stroke="#000" stroke-width="2.1"/>
<path d="M575.9,993.3L586.1,993.3L581.0,984.1Z" fill="#fff" stroke="#000" stroke-width="2.1" stroke-linejoin="miter"/>
<path d="M652.6,990.9L662.8,990.9L657.7,981.7Z" fill="#fff" stroke="#000" stroke-width="2.1" stroke-linejoin="miter"/>
<path d="M736.3,993.8L746.5,993.8L741.4,984.6Z" fill="#fff" stroke="#000" stroke-width="2.1" stroke-linejoin="miter"/>
<path d="M801.7,982.4L811.9,982.4L806.8,973.2Z" fill="#fff" stroke="#000" stroke-width="2.1" stroke-linejoin="miter"/>
<path d="M863.4,972.7L873.6,972.7L868.5,963.5Z" fill="#fff" stroke="#000" stroke-width="2.1" stroke-linejoin="miter"/>
<path d="M960.5,978.8L970.7,978.8L965.6,969.6Z" fill="#fff" stroke="#000" stroke-width="2.1" stroke-linejoin="miter"/>
<path d="M1117.8,981.2L1128.0,981.2L1122.9,972.0Z" fill="#fff" stroke="#000" stroke-width="2.1" stroke-linejoin="miter"/>
<path d="M575.5,941.0L586.5,941.0L581.0,951.6Z" fill="#000"/>
<path d="M652.2,938.5L663.2,938.5L657.7,949.1Z" fill="#000"/>
<path d="M735.9,931.3L746.9,931.3L741.4,941.9Z" fill="#000"/>
<path d="M801.3,932.0L812.3,932.0L806.8,942.6Z" fill="#000"/>
<path d="M863.0,926.4L874.0,926.4L868.5,937.0Z" fill="#000"/>
<path d="M960.1,924.0L971.1,924.0L965.6,934.6Z" fill="#000"/>
<path d="M1117.4,932.0L1128.4,932.0L1122.9,942.6Z" fill="#000"/>
<rect x="576.6" y="919.2" width="8.8" height="7.9" fill="#000"/>
<rect x="653.3" y="916.8" width="8.8" height="7.9" fill="#000"/>
<rect x="737.0" y="910.7" width="8.8" height="7.9" fill="#000"/>
<rect x="802.4" y="910.7" width="8.8" height="7.9" fill="#000"/>
<rect x="864.1" y="903.4" width="8.8" height="7.9" fill="#000"/>
<rect x="961.2" y="901.0" width="8.8" height="7.9" fill="#000"/>
<rect x="1118.5" y="898.6" width="8.8" height="7.9" fill="#000"/>
<path d="M575.4,822.7L586.6,822.7L581.0,812.5Z" fill="#ff0000"/>
<path d="M652.1,817.9L663.3,817.9L657.7,807.7Z" fill="#ff0000"/>
<path d="M735.8,815.4L747.0,815.4L741.4,805.2Z" fill="#ff0000"/>
<path d="M801.2,808.2L812.4,808.2L806.8,798.0Z" fill="#ff0000"/>
<path d="M862.9,808.2L874.1,808.2L868.5,798.0Z" fill="#ff0000"/>
<path d="M960.0,808.2L971.2,808.2L965.6,798.0Z" fill="#ff0000"/>
<path d="M1117.3,815.4L1128.5,815.4L1122.9,805.2Z" fill="#ff0000"/>
<line x1="1045.5" y1="618.2" x2="1121" y2="618.2" stroke="#000" stroke-width="2.1"/>
<path d="M1077.2,612.8L1088.4,612.8L1082.8,623.6Z" fill="#000"/>
<text transform="translate(1128.6,625.6) scale(1.0,1.11)" font-size="26.4" font-weight="normal" text-anchor="start" font-family="'Liberation Serif',serif" stroke="#000" stroke-width="0.85">40V</text>
<line x1="1045.5" y1="657.3" x2="1121" y2="657.3" stroke="#c41230" stroke-width="2.1"/>
<path d="M1077.0,662.5L1088.6,662.5L1082.8,652.1Z" fill="#ff0000"/>
<text transform="translate(1128.6,664.7) scale(1.0,1.11)" font-size="26.4" font-weight="normal" text-anchor="start" font-family="'Liberation Serif',serif" stroke="#000" stroke-width="0.85">30V</text>
<line x1="1045.5" y1="698.8" x2="1121" y2="698.8" stroke="#000" stroke-width="2.1"/>
<rect x="1078.3" y="694.8" width="9.0" height="8.1" fill="#000"/>
<text transform="translate(1128.6,706.2) scale(1.0,1.11)" font-size="26.4" font-weight="normal" text-anchor="start" font-family="'Liberation Serif',serif" stroke="#000" stroke-width="0.85">20V</text>
<line x1="1045.5" y1="740.2" x2="1121" y2="740.2" stroke="#000" stroke-width="2.1"/>
<path d="M1077.6,744.9L1088.0,744.9L1082.8,735.5Z" fill="#fff" stroke="#000" stroke-width="2.1" stroke-linejoin="miter"/>
<text transform="translate(1128.6,747.6) scale(1.0,1.11)" font-size="26.4" font-weight="normal" text-anchor="start" font-family="'Liberation Serif',serif" stroke="#000" stroke-width="0.85">10V</text>
<line x1="1045.5" y1="779.3" x2="1121" y2="779.3" stroke="#000" stroke-width="2.1"/>
<circle cx="1082.8" cy="779.3" r="3.2" fill="#fff" stroke="#000" stroke-width="2.1"/>
<text transform="translate(1128.6,786.7) scale(1.0,1.11)" font-size="26.4" font-weight="normal" text-anchor="start" font-family="'Liberation Serif',serif" stroke="#000" stroke-width="0.85">&#160;0V</text>
<text transform="translate(291.40,548.12) scale(0.9005,0.9226)" font-size="34" font-family="'Liberation Serif',serif" font-weight="normal" letter-spacing="3.2" stroke="#000" stroke-width="1.6">T<tspan dx="4">emperature</tspan></text>
<text transform="translate(487.43,548.71) scale(1.0875,0.9267)" font-size="34" font-family="'Liberation Serif',serif" font-weight="normal">(</text>
<text transform="translate(497.75,550.63) scale(1.0483,1.0667)" font-size="34" font-family="'Liberation Serif','WenQuanYi Zen Hei',sans-serif" font-weight="normal" stroke="#000" stroke-width="0.4">&#8451;</text>
<text transform="translate(532.81,548.87) scale(0.9889,0.9333)" font-size="34" font-family="'Liberation Serif',serif" font-weight="normal">)</text>
<text transform="translate(1145.00,541.62) scale(0.9005,0.9226)" font-size="34" font-family="'Liberation Serif',serif" font-weight="normal" letter-spacing="3.2" stroke="#000" stroke-width="1.6">T<tspan dx="4">emperature</tspan></text>
<text transform="translate(1341.03,542.21) scale(1.0875,0.9267)" font-size="34" font-family="'Liberation Serif',serif" font-weight="normal">(</text>
<text transform="translate(1351.35,544.13) scale(1.0483,1.0667)" font-size="34" font-family="'Liberation Serif','WenQuanYi Zen Hei',sans-serif" font-weight="normal" stroke="#000" stroke-width="0.4">&#8451;</text>
<text transform="translate(1386.41,542.37) scale(0.9889,0.9333)" font-size="34" font-family="'Liberation Serif',serif" font-weight="normal">)</text>
<text transform="translate(710.10,1137.92) scale(0.9005,0.9226)" font-size="34" font-family="'Liberation Serif',serif" font-weight="normal" letter-spacing="3.2" stroke="#000" stroke-width="1.6">T<tspan dx="4">emperature</tspan></text>
<text transform="translate(906.12,1138.51) scale(1.0875,0.9267)" font-size="34" font-family="'Liberation Serif',serif" font-weight="normal">(</text>
<text transform="translate(916.45,1140.43) scale(1.0483,1.0667)" font-size="34" font-family="'Liberation Serif','WenQuanYi Zen Hei',sans-serif" font-weight="normal" stroke="#000" stroke-width="0.4">&#8451;</text>
<text transform="translate(951.51,1138.67) scale(0.9889,0.9333)" font-size="34" font-family="'Liberation Serif',serif" font-weight="normal">)</text>
<text transform="translate(103.88,42.12) scale(1.0229,0.9828)" font-size="32" font-family="'Liberation Serif',serif" font-weight="normal" stroke="#000" stroke-width="0.3">(<tspan font-weight="bold">a</tspan>)</text>
<text transform="translate(958.17,35.98) scale(1.0297,1.0034)" font-size="32" font-family="'Liberation Serif',serif" font-weight="normal" stroke="#000" stroke-width="0.3">(<tspan font-weight="bold">b</tspan>)</text>
<text transform="translate(527.14,629.85) scale(1.0636,1.0069)" font-size="32" font-family="'Liberation Serif',serif" font-weight="normal" stroke="#000" stroke-width="0.3">(<tspan font-weight="bold">c</tspan>)</text>
<text transform="translate(42.28,353.34) scale(0.8138,0.8138) rotate(-90)" font-size="35" font-family="'Liberation Serif',serif" font-weight="normal" stroke="#000" stroke-width="0.7">σ</text>
<text transform="translate(41.11,311.84) scale(0.9187,0.9187) rotate(-90)" font-size="35" font-family="'Liberation Serif',serif" font-weight="normal" stroke="#000" stroke-width="0.7"><tspan font-weight="normal">(</tspan>10</text>
<text transform="translate(24.40,268.10) scale(1.0359,1.0359) rotate(-90)" font-size="22" font-family="'Liberation Serif',serif" font-weight="normal" stroke="#000" stroke-width="0.7">4</text>
<text transform="translate(41.81,251.39) scale(0.9715,0.9715) rotate(-90)" font-size="35" font-family="'Liberation Serif',serif" font-weight="normal" stroke="#000" stroke-width="0.7">S m</text>
<text transform="translate(24.10,197.76) scale(0.9929,0.9929) rotate(-90)" font-size="22" font-family="'Liberation Serif',serif" font-weight="normal" stroke="#000" stroke-width="0.7"><tspan fill="#d8d8d8" stroke="none">-</tspan>1</text>
<text transform="translate(42.48,181.93) scale(1.0149,1.0149) rotate(-90)" font-size="35" font-family="'Liberation Serif',serif" font-weight="normal" stroke="#000" stroke-width="0.7">)</text>
<text transform="translate(880.70,337.12) scale(0.9915,0.9915) rotate(-90)" font-size="35" font-family="'Liberation Serif',serif" font-weight="normal" stroke="#000" stroke-width="0.7">S</text>
<text transform="translate(879.65,308.67) scale(0.8883,0.8883) rotate(-90)" font-size="35" font-family="'Liberation Serif',serif" font-weight="normal" stroke="#000" stroke-width="0.7"><tspan font-weight="normal">(</tspan>μV</text>
<text transform="translate(882.24,249.00) scale(1.1073,1.1073) rotate(-90)" font-size="35" font-family="'Liberation Serif',serif" font-weight="normal" stroke="#000" stroke-width="0.7">K</text>
<text transform="translate(863.20,226.61) scale(1.0429,1.0429) rotate(-90)" font-size="22" font-family="'Liberation Serif',serif" font-weight="normal" stroke="#000" stroke-width="0.7"><tspan fill="#d8d8d8" stroke="none">-</tspan>1</text>
<text transform="translate(880.64,209.49) scale(0.9809,0.9809) rotate(-90)" font-size="35" font-family="'Liberation Serif',serif" font-weight="normal" stroke="#000" stroke-width="0.7">)</text>
<text transform="translate(461.66,990.06) scale(1.0010,1.0010) rotate(-90)" font-size="35" font-family="'Liberation Serif',serif" font-weight="normal" stroke="#000" stroke-width="0.7">S</text>
<text transform="translate(441.51,971.71) scale(1.0293,1.0293) rotate(-90)" font-size="22" font-family="'Liberation Serif',serif" font-weight="normal" stroke="#000" stroke-width="0.7">2</text>
<text transform="translate(461.65,960.25) scale(0.8001,0.8001) rotate(-90)" font-size="35" font-family="'Liberation Serif',serif" font-weight="normal" stroke="#000" stroke-width="0.7">σ</text>
<text transform="translate(460.29,919.35) scale(0.8873,0.8873) rotate(-90)" font-size="35" font-family="'Liberation Serif',serif" font-weight="normal" stroke="#000" stroke-width="0.7"><tspan font-weight="normal">(</tspan>m</text>
<text transform="translate(461.26,881.22) scale(0.9845,0.9845) rotate(-90)" font-size="35" font-family="'Liberation Serif',serif" font-weight="normal" stroke="#000" stroke-width="0.7">W m</text>
<text transform="translate(442.20,811.46) scale(1.0429,1.0429) rotate(-90)" font-size="22" font-family="'Liberation Serif',serif" font-weight="normal" stroke="#000" stroke-width="0.7"><tspan fill="#d8d8d8" stroke="none">-</tspan>1</text>
<text transform="translate(462.72,783.88) scale(1.1061,1.1061) rotate(-90)" font-size="35" font-family="'Liberation Serif',serif" font-weight="normal" stroke="#000" stroke-width="0.7">K</text>
<text transform="translate(442.84,760.83) scale(1.1341,1.1341) rotate(-90)" font-size="22" font-family="'Liberation Serif',serif" font-weight="normal" stroke="#000" stroke-width="0.7"><tspan fill="#d8d8d8" stroke="none">-</tspan>2</text>
<text transform="translate(461.79,744.35) scale(0.9631,0.9631) rotate(-90)" font-size="35" font-family="'Liberation Serif',serif" font-weight="normal" stroke="#000" stroke-width="0.7">)</text>
</svg>
</body></html>
